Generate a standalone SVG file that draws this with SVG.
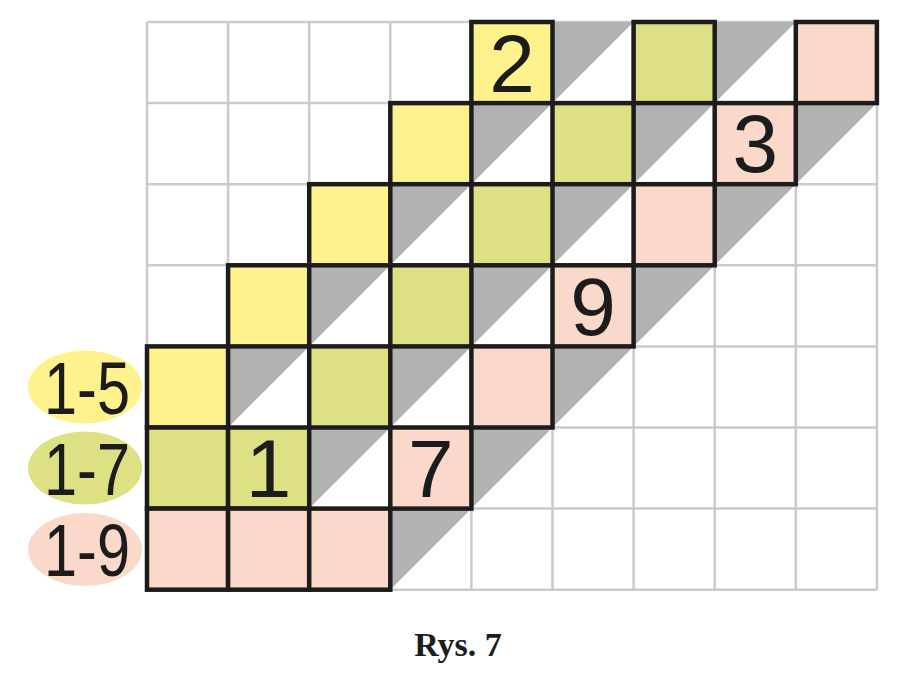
<svg xmlns="http://www.w3.org/2000/svg" xmlns:xlink="http://www.w3.org/1999/xlink" width="900" height="674" viewBox="0 0 900 674">
<style>
.y{fill:#fff28c}
.g{fill:#dde184}
.p{fill:#fad9cb}
.box{stroke:#1c1c1c;stroke-width:4.5}
.tri{fill:#b2b2b2}
.grid line{stroke:#cbcbcb;stroke-width:2.5}
.num{font-family:"Liberation Sans",Arial,sans-serif;font-size:82px;fill:#1c1c1c;text-anchor:middle}
.lab{font-family:"Liberation Sans",Arial,sans-serif;font-size:75px;fill:#1c1c1c;text-anchor:middle}
.cap{font-family:"Liberation Serif","Times New Roman",serif;font-size:34px;font-weight:bold;fill:#1c1c1c;text-anchor:middle}
</style>
<defs>
<path id="tri" class="tri" d="M0 0H81.1L0 81.1Z"/>
</defs>
<rect width="900" height="674" fill="#ffffff"/>
<g class="grid">
<line x1="147" y1="22" x2="147" y2="589.7"/>
<line x1="228.1" y1="22" x2="228.1" y2="589.7"/>
<line x1="309.2" y1="22" x2="309.2" y2="589.7"/>
<line x1="390.3" y1="22" x2="390.3" y2="589.7"/>
<line x1="471.4" y1="22" x2="471.4" y2="589.7"/>
<line x1="552.5" y1="22" x2="552.5" y2="589.7"/>
<line x1="633.6" y1="22" x2="633.6" y2="589.7"/>
<line x1="714.7" y1="22" x2="714.7" y2="589.7"/>
<line x1="795.8" y1="22" x2="795.8" y2="589.7"/>
<line x1="876.9" y1="22" x2="876.9" y2="589.7"/>
<line x1="147" y1="22" x2="876.9" y2="22"/>
<line x1="147" y1="103.1" x2="876.9" y2="103.1"/>
<line x1="147" y1="184.2" x2="876.9" y2="184.2"/>
<line x1="147" y1="265.3" x2="876.9" y2="265.3"/>
<line x1="147" y1="346.4" x2="876.9" y2="346.4"/>
<line x1="147" y1="427.5" x2="876.9" y2="427.5"/>
<line x1="147" y1="508.6" x2="876.9" y2="508.6"/>
<line x1="147" y1="589.7" x2="876.9" y2="589.7"/>
</g>
<g id="shadows">
<use xlink:href="#tri" x="390.3" y="508.6"/>
<use xlink:href="#tri" x="309.2" y="427.5"/>
<use xlink:href="#tri" x="471.4" y="427.5"/>
<use xlink:href="#tri" x="228.1" y="346.4"/>
<use xlink:href="#tri" x="390.3" y="346.4"/>
<use xlink:href="#tri" x="552.5" y="346.4"/>
<use xlink:href="#tri" x="309.2" y="265.3"/>
<use xlink:href="#tri" x="471.4" y="265.3"/>
<use xlink:href="#tri" x="633.6" y="265.3"/>
<use xlink:href="#tri" x="390.3" y="184.2"/>
<use xlink:href="#tri" x="552.5" y="184.2"/>
<use xlink:href="#tri" x="714.7" y="184.2"/>
<use xlink:href="#tri" x="471.4" y="103.1"/>
<use xlink:href="#tri" x="633.6" y="103.1"/>
<use xlink:href="#tri" x="795.8" y="103.1"/>
<use xlink:href="#tri" x="552.5" y="22"/>
<use xlink:href="#tri" x="714.7" y="22"/>
</g>
<g id="band-yellow">
<rect class="y box" x="147" y="346.4" width="81.1" height="81.1"/>
<rect class="y box" x="228.1" y="265.3" width="81.1" height="81.1"/>
<rect class="y box" x="309.2" y="184.2" width="81.1" height="81.1"/>
<rect class="y box" x="390.3" y="103.1" width="81.1" height="81.1"/>
<rect class="y box" x="471.4" y="22" width="81.1" height="81.1"/>
</g>
<g id="band-green">
<rect class="g box" x="147" y="427.5" width="81.1" height="81.1"/>
<rect class="g box" x="228.1" y="427.5" width="81.1" height="81.1"/>
<rect class="g box" x="309.2" y="346.4" width="81.1" height="81.1"/>
<rect class="g box" x="390.3" y="265.3" width="81.1" height="81.1"/>
<rect class="g box" x="471.4" y="184.2" width="81.1" height="81.1"/>
<rect class="g box" x="552.5" y="103.1" width="81.1" height="81.1"/>
<rect class="g box" x="633.6" y="22" width="81.1" height="81.1"/>
</g>
<g id="band-pink">
<rect class="p box" x="147" y="508.6" width="81.1" height="81.1"/>
<rect class="p box" x="228.1" y="508.6" width="81.1" height="81.1"/>
<rect class="p box" x="309.2" y="508.6" width="81.1" height="81.1"/>
<rect class="p box" x="390.3" y="427.5" width="81.1" height="81.1"/>
<rect class="p box" x="471.4" y="346.4" width="81.1" height="81.1"/>
<rect class="p box" x="552.5" y="265.3" width="81.1" height="81.1"/>
<rect class="p box" x="633.6" y="184.2" width="81.1" height="81.1"/>
<rect class="p box" x="714.7" y="103.1" width="81.1" height="81.1"/>
<rect class="p box" x="795.8" y="22" width="81.1" height="81.1"/>
</g>
<g id="digits">
<text class="num" x="512" y="91.5">2</text>
<text class="num" x="755.2" y="172">3</text>
<text class="num" x="593" y="334.8">9</text>
<text class="num" x="268.6" y="497">1</text>
<text class="num" x="430.8" y="497">7</text>
</g>
<g id="label-1-5">
<ellipse class="y" cx="85" cy="387" rx="57" ry="36.5"/>
<text class="lab" x="87" y="413.5" textLength="86" lengthAdjust="spacingAndGlyphs">1-5</text>
</g>
<g id="label-1-7">
<ellipse class="g" cx="85" cy="468" rx="57" ry="36.5"/>
<text class="lab" x="87" y="494.5" textLength="86" lengthAdjust="spacingAndGlyphs">1-7</text>
</g>
<g id="label-1-9">
<ellipse class="p" cx="85" cy="549.5" rx="57" ry="36.5"/>
<text class="lab" x="87" y="576" textLength="86" lengthAdjust="spacingAndGlyphs">1-9</text>
</g>
<g id="connectors"/>
<text class="cap" x="458" y="656">Rys. 7</text>
</svg>
